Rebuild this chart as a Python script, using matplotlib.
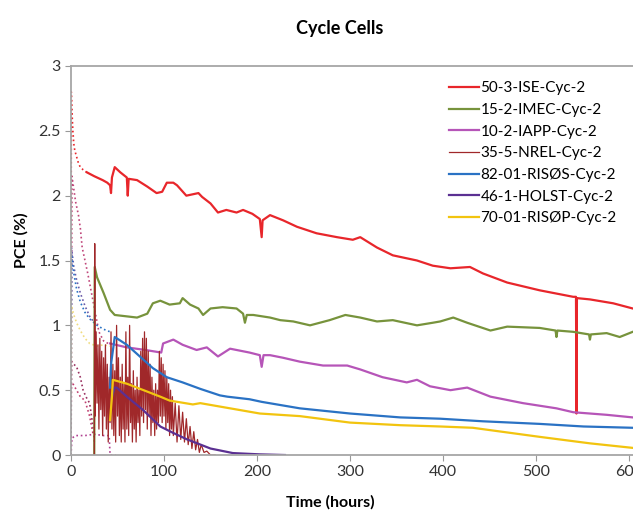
import matplotlib.pyplot as plt

plt.rcParams['font.family'] = ['Lato', 'DejaVu Sans']

# ---- solid traces (hours, PCE %) ----
ise_t = [17, 25, 34, 39, 42, 43, 44, 47, 53, 60, 61, 62, 71, 82, 92, 98, 103, 110, 114, 124, 137,
         141, 150, 158, 167, 178, 185, 195, 203, 205, 206, 214, 228, 243, 264, 286, 303, 311, 329,
         346, 372, 389, 408, 429, 443, 469, 504, 540, 543, 543.5, 544, 558, 583, 604]
ise_v = [2.18, 2.15, 2.12, 2.10, 2.08, 2.02, 2.14, 2.22, 2.18, 2.14, 2.00, 2.13, 2.12, 2.07, 2.02,
         2.03, 2.10, 2.10, 2.08, 2.00, 2.02, 1.99, 1.94, 1.87, 1.89, 1.87, 1.89, 1.86, 1.82, 1.68,
         1.81, 1.85, 1.81, 1.76, 1.71, 1.68, 1.66, 1.68, 1.60, 1.54, 1.50, 1.46, 1.44, 1.45, 1.40,
         1.33, 1.27, 1.22, 1.22, 0.32, 1.21, 1.20, 1.17, 1.13]

imec_t = [25, 25.5, 28, 35, 42, 47, 71, 82, 88, 96, 106, 117, 120, 128, 137, 142, 150, 163, 178,
          185, 187, 189, 196, 214, 225, 239, 257, 278, 295, 311, 329, 346, 372, 389, 397, 411, 426,
          451, 469, 504, 521, 522, 523, 540, 557, 558, 559, 576, 590, 604]
imec_v = [0.0, 1.45, 1.37, 1.25, 1.12, 1.08, 1.06, 1.09, 1.17, 1.19, 1.16, 1.17, 1.21, 1.16, 1.13,
          1.08, 1.13, 1.14, 1.13, 1.09, 1.02, 1.08, 1.08, 1.06, 1.04, 1.03, 1.00, 1.04, 1.08, 1.06,
          1.03, 1.04, 1.00, 1.02, 1.03, 1.06, 1.02, 0.96, 0.99, 0.98, 0.96, 0.91, 0.96, 0.95, 0.93,
          0.89, 0.93, 0.94, 0.91, 0.95]

iapp_t = [42, 60, 80, 97, 99, 110, 120, 135, 146, 158, 171, 192, 203, 205, 207, 214, 228, 246,
          271, 297, 311, 335, 361, 372, 386, 408, 426, 451, 486, 522, 540, 576, 604]
iapp_v = [0.86, 0.83, 0.81, 0.79, 0.86, 0.89, 0.85, 0.81, 0.83, 0.76, 0.82, 0.79, 0.77, 0.68, 0.77,
          0.77, 0.75, 0.72, 0.69, 0.69, 0.66, 0.60, 0.56, 0.58, 0.53, 0.50, 0.52, 0.45, 0.40, 0.36,
          0.33, 0.31, 0.29]

nrel_t = [25, 25.5, 26, 27, 28, 29, 30, 31, 32, 33, 34, 35, 36, 37, 38, 39, 40, 41, 42, 43, 44,
          45, 46, 47, 48, 49, 50, 51, 52, 53, 54, 55, 56, 57, 58, 59, 60, 61, 62, 63, 64, 65, 66,
          67, 68, 69, 70, 71, 72, 73, 74, 75, 76, 77, 78, 79, 80, 81, 82, 83, 84, 85, 86, 87, 88,
          89, 90, 91, 92, 93, 94, 95, 96, 97, 98, 99, 100, 101, 102, 103, 104, 105, 106, 107, 108,
          109, 110, 112, 114, 116, 118, 120, 122, 124, 126, 128, 130, 132, 134, 136, 138, 140,
          143, 146, 150, 155]
nrel_v = [0.0, 1.63, 0.30, 0.95, 0.40, 0.85, 0.20, 0.90, 0.35, 0.80, 0.15, 0.75, 0.30, 0.85, 0.20,
          0.70, 0.10, 0.60, 0.25, 0.95, 0.20, 0.70, 0.15, 0.65, 0.10, 1.00, 0.30, 0.75, 0.15, 0.60,
          0.10, 0.70, 0.20, 0.55, 0.10, 0.95, 0.20, 0.60, 0.15, 1.00, 0.25, 0.55, 0.10, 0.65, 0.20,
          0.50, 0.10, 0.60, 0.25, 0.50, 0.15, 0.80, 0.30, 0.90, 0.25, 0.95, 0.35, 0.90, 0.20, 0.80,
          0.30, 0.70, 0.15, 0.60, 0.25, 0.50, 0.15, 0.55, 0.20, 0.50, 0.25, 0.80, 0.30, 0.75, 0.25,
          0.70, 0.30, 0.65, 0.20, 0.60, 0.25, 0.55, 0.15, 0.50, 0.20, 0.45, 0.15, 0.40, 0.10, 0.38,
          0.12, 0.33, 0.10, 0.28, 0.08, 0.22, 0.05, 0.18, 0.04, 0.12, 0.02, 0.08, 0.02, 0.03, 0.0,
          0.0]

risos_t = [42, 43, 47, 60, 74, 88, 103, 120, 139, 160, 168, 192, 205, 246, 300, 354, 397, 443,
           504, 551, 604]
risos_v = [0.52, 0.70, 0.91, 0.85, 0.76, 0.67, 0.60, 0.56, 0.51, 0.46, 0.45, 0.43, 0.41, 0.36,
           0.32, 0.29, 0.28, 0.26, 0.24, 0.22, 0.21]

holst_t = [44, 47, 49, 60, 77, 96, 110, 125, 150, 174, 203, 230]
holst_v = [0.45, 0.52, 0.52, 0.45, 0.35, 0.22, 0.17, 0.12, 0.05, 0.015, 0.005, 0.0]

risop_t = [42, 44, 45, 60, 96, 106, 131, 139, 203, 246, 300, 354, 397, 432, 504, 558, 604]
risop_v = [0.27, 0.45, 0.58, 0.55, 0.45, 0.42, 0.39, 0.40, 0.32, 0.30, 0.25, 0.23, 0.22, 0.21,
           0.14, 0.09, 0.055]

# ---- dotted start-up segments ----
ise_dot_t = [0, 0.3, 1, 2, 3, 4, 6, 8, 10, 13, 17]
ise_dot_v = [0.0, 2.80, 2.65, 2.50, 2.40, 2.35, 2.30, 2.25, 2.22, 2.20, 2.18]
iapp_dot_t = [0, 1, 3, 5, 8, 10, 12, 15, 18, 22, 26, 30, 35, 40]
iapp_dot_v = [0.0, 2.15, 2.05, 1.95, 1.85, 1.75, 1.60, 1.50, 1.40, 1.25, 1.10, 0.95, 0.88, 0.86]
risos_dot_t = [0, 0.5, 3, 6, 10, 15, 20, 28, 35, 42]
risos_dot_v = [0.0, 1.55, 1.40, 1.28, 1.18, 1.10, 1.05, 1.00, 0.97, 0.95]
holst_dot_t = [0, 0.5, 3, 6, 10, 15, 20, 25]
holst_dot_v = [0.0, 1.60, 1.45, 1.35, 1.25, 1.15, 1.07, 1.02]
risop_dot_t = [0, 0.5, 3, 6, 10, 15, 20, 28, 35, 42]
risop_dot_v = [0.0, 1.15, 1.08, 1.02, 0.96, 0.90, 0.86, 0.84, 0.85, 0.84]
nrel_dot_t = [0, 0.5, 3, 6, 10, 13, 16, 20, 24, 25]
nrel_dot_v = [0.0, 0.72, 0.70, 0.68, 0.60, 0.50, 0.45, 0.40, 0.20, 0.10]
low_dot_t = [0, 1, 5, 15, 25, 35, 41, 42, 48]
low_dot_v = [0.0, 0.13, 0.15, 0.15, 0.16, 0.15, 0.15, 0.0, 0.0]
noise_dot_t = [2, 6, 10, 15, 20, 24]
noise_dot_v = [0.55, 0.50, 0.45, 0.42, 0.30, 0.15]

labels = ['50-3-ISE-Cyc-2', '15-2-IMEC-Cyc-2', '10-2-IAPP-Cyc-2', '35-5-NREL-Cyc-2',
          '82-01-RISØS-Cyc-2', '46-1-HOLST-Cyc-2', '70-01-RISØP-Cyc-2']
colors = ['#e8262b', '#77933c', '#b655b8', '#a0282a', '#2a72c4', '#5b3092', '#f2c40f']

fig = plt.figure(figsize=(6.33, 5.12), dpi=100)
ax = fig.add_axes([0.1122, 0.1113, 1.0284, 0.7598])

ax.plot(ise_dot_t, ise_dot_v, ':', color=colors[0], lw=1.2)
ax.plot(iapp_dot_t, iapp_dot_v, ':', color='#c0467a', lw=1.2)
ax.plot(holst_dot_t, holst_dot_v, ':', color='#6a5aa8', lw=1.2)
ax.plot(risos_dot_t, risos_dot_v, ':', color=colors[4], lw=1.2)
ax.plot(risop_dot_t, risop_dot_v, ':', color='#f0dc80', lw=1.2)
ax.plot(nrel_dot_t, nrel_dot_v, ':', color='#9a3060', lw=1.2)
ax.plot(low_dot_t, low_dot_v, ':', color='#b04090', lw=1.2)
ax.plot(noise_dot_t, noise_dot_v, ':', color='#c04070', lw=1.2)

ax.plot(ise_t, ise_v, color=colors[0], lw=1.6, label=labels[0])
ax.plot(imec_t, imec_v, color=colors[1], lw=1.6, label=labels[1])
ax.plot(iapp_t, iapp_v, color=colors[2], lw=1.6, label=labels[2])
ax.plot(nrel_t, nrel_v, color=colors[3], lw=0.9, label=labels[3])
ax.plot(risos_t, risos_v, color=colors[4], lw=1.6, label=labels[4])
ax.plot(holst_t, holst_v, color=colors[5], lw=1.6, label=labels[5])
ax.plot(risop_t, risop_v, color=colors[6], lw=1.6, label=labels[6])

ax.set_xlim(0, 700)
ax.set_ylim(0, 3)
ax.set_xticks(range(0, 701, 100))
ax.set_yticks([0, 0.5, 1, 1.5, 2, 2.5, 3])
ax.set_yticklabels(['0', '0.5', '1', '1.5', '2', '2.5', '3'])
ax.tick_params(labelsize=11.5, colors='#333333', length=4, color='#999999')
for s in ['left', 'bottom', 'top']:
    ax.spines[s].set_color('#a6a6a6')
    ax.spines[s].set_linewidth(1.3)
ax.spines['right'].set_visible(False)

fig.text(0.537, 0.945, 'Cycle Cells', ha='center', va='center', fontsize=13, fontweight='bold')
fig.text(0.522, 0.018, 'Time (hours)', ha='center', va='center', fontsize=11.5,
         fontweight='bold')
fig.text(0.034, 0.53, 'PCE (%)', ha='center', va='center', rotation=90, fontsize=11.5,
         fontweight='bold')

ax.legend(loc='upper left', bbox_to_anchor=(0.699, 0.853), bbox_transform=fig.transFigure,
          frameon=False, fontsize=11, handlelength=2.0, handletextpad=0.08, labelspacing=0.5,
          borderaxespad=0)

fig.savefig('out.png', dpi=100)
